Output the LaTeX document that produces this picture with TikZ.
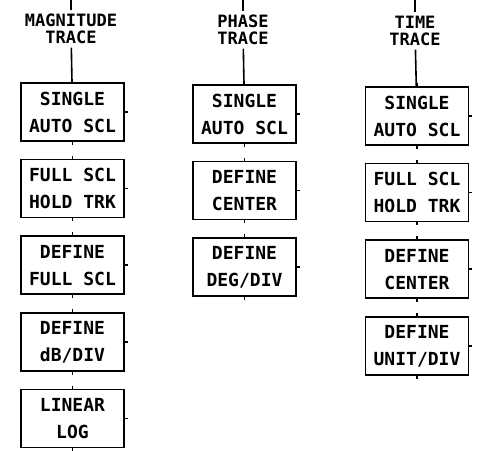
\documentclass[tikz,border=0pt]{standalone}
\usepackage{fontspec}
\setmonofont{DejaVu Sans Mono}
\usetikzlibrary{positioning}

\begin{document}
\begin{tikzpicture}[x=1pt, y=1pt, line width=1.6pt, node distance=17pt,
    softkey/.style={draw, minimum width=103pt, minimum height=58pt, inner sep=0pt,
        align=center, font=\ttfamily\bfseries\fontsize{18}{27}\selectfont},
    menutitle/.style={align=center, inner sep=3pt,
        font=\ttfamily\bfseries\fontsize{17}{17}\selectfont}]
    \useasboundingbox (0,0) rectangle (481,-450);

    % 1. Tieu de ba cot
    \coordinate (magTop) at (71,0);
    \coordinate (phTop) at (243,0);
    \coordinate (tmTop) at (415,0);
    \node[menutitle] (magT) at (71,-29) {MAGNITUDE\\TRACE};
    \node[menutitle] (phT) at (243,-30) {PHASE\\TRACE};
    \node[menutitle] (tmT) at (415,-31) {TIME\\TRACE};

    % 2. Cot MAGNITUDE
    \node[softkey] (mag1) at (72.5,-112) {SINGLE\\AUTO SCL};
    \node[softkey, below=of mag1] (mag2) {FULL SCL\\HOLD TRK};
    \node[softkey, below=of mag2] (mag3) {DEFINE\\FULL SCL};
    \node[softkey, below=of mag3] (mag4) {DEFINE\\dB/DIV};
    \node[softkey, below=of mag4] (mag5) {LINEAR\\LOG};

    % 3. Cot PHASE
    \node[softkey] (ph1) at (244.5,-114) {SINGLE\\AUTO SCL};
    \node[softkey, below=of ph1] (ph2) {DEFINE\\CENTER};
    \node[softkey, below=of ph2] (ph3) {DEFINE\\DEG/DIV};

    % 4. Cot TIME
    \node[softkey] (tm1) at (417,-116) {SINGLE\\AUTO SCL};
    \node[softkey, below=of tm1] (tm2) {FULL SCL\\HOLD TRK};
    \node[softkey, below=of tm2] (tm3) {DEFINE\\CENTER};
    \node[softkey, below=of tm3] (tm4) {DEFINE\\UNIT/DIV};

    % 5. Duong noi
    \draw (magTop) -- (magT);
    \draw (phTop) -- (phT);
    \draw (tmTop) -- (tmT);
    \draw (magT) -- (mag1);
    \draw (phT) -- (ph1);
    \draw (tmT) -- (tm1);

    % 6. Vach nho tren, duoi va ben phai moi phim
    \foreach \k in {mag1,mag2,mag3,mag4,mag5,ph1,ph2,ph3,tm1,tm2,tm3,tm4}
        \draw (\k.north) -- ++(0,3) (\k.south) -- ++(0,-3) (\k.east) -- ++(3,0);
\end{tikzpicture}
\end{document}
